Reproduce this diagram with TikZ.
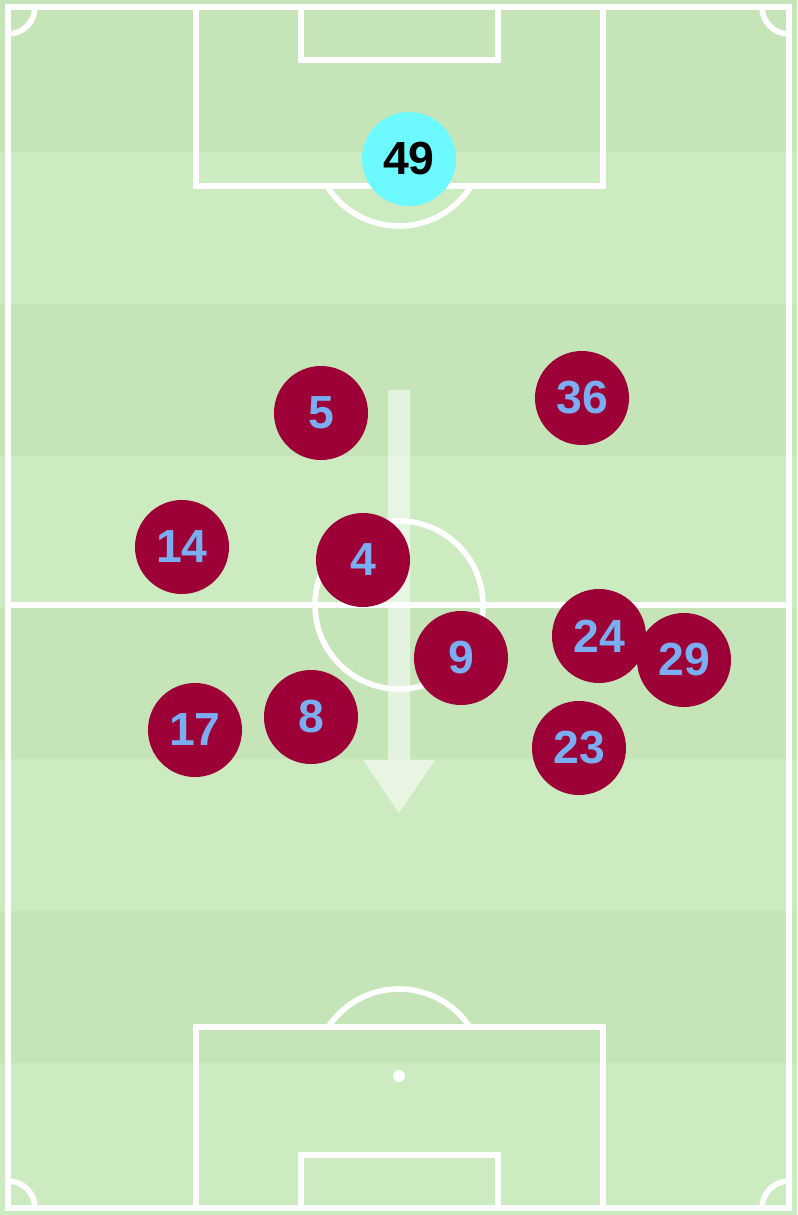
\documentclass[tikz,border=0pt]{standalone}
\usepackage{fontspec}
\setmainfont{Liberation Sans}
\definecolor{turfdark}{HTML}{C5E5B9}
\definecolor{turflight}{HTML}{CDEBC1}
\definecolor{claret}{HTML}{9C0036}
\definecolor{skyblue}{HTML}{7AAEF0}
\definecolor{keepercol}{HTML}{6CF9FF}

\begin{document}
\begin{tikzpicture}[x=0.025cm,y=-0.025cm,
    pitchline/.style={draw=white,line width=4pt},
    player/.style={circle,fill=claret,text=skyblue,inner sep=0pt,minimum size=2.35cm,
      font=\fontsize{33}{40}\selectfont\bfseries},
    keeper/.style={player,fill=keepercol,text=black}]
   \useasboundingbox (0,0) rectangle (797,1215);
   % grass stripes
   \fill[turflight] (0,0) rectangle (797,1215);
   \foreach \s in {0,2,4,6}
     \fill[turfdark] (0,\s*151.875) rectangle (797,\s*151.875+151.875);
   % markings
   \draw[pitchline] (8,7) rectangle (789,1208);
   \draw[pitchline] (8,605) -- (789,605);
   \draw[pitchline] (399,605) circle[radius=84];
   \draw[pitchline] (196,7) rectangle (603,186);
   \draw[pitchline] (301,7) rectangle (498,60);
   \draw[pitchline] (196,1027) rectangle (603,1208);
   \draw[pitchline] (301,1155) rectangle (498,1208);
   \fill[white] (399,1076) circle[radius=6];
   \begin{scope}
     \clip (0,186) rectangle (797,400);
     \draw[pitchline] (399,141) circle[radius=85];
   \end{scope}
   \begin{scope}
     \clip (0,800) rectangle (797,1027);
     \draw[pitchline] (399,1074) circle[radius=85];
   \end{scope}
   \begin{scope}
     \clip (8,7) rectangle (789,1208);
     \foreach \cx/\cy in {8/7,789/7,8/1208,789/1208}
       \draw[pitchline] (\cx,\cy) circle[radius=27];
   \end{scope}
   % direction of play
   \fill[white,opacity=0.55] (388,390) -- (410,390) -- (410,760) -- (435,760)
     -- (399,813) -- (363,760) -- (388,760) -- cycle;
   % players
   \node[keeper] (p49) at (409,159) {49};
   \node[player] (p5) at (321,413) {5};
   \node[player] (p36) at (582,398) {36};
   \node[player] (p14) at (182,547) {14};
   \node[player] (p4) at (363,560) {4};
   \node[player] (p9) at (461,658) {9};
   \node[player] (p24) at (599,636) {24};
   \node[player] (p29) at (684,660) {29};
   \node[player] (p17) at (195,730) {17};
   \node[player] (p8) at (311,717) {8};
   \node[player] (p23) at (579,748) {23};
\end{tikzpicture}
\end{document}
